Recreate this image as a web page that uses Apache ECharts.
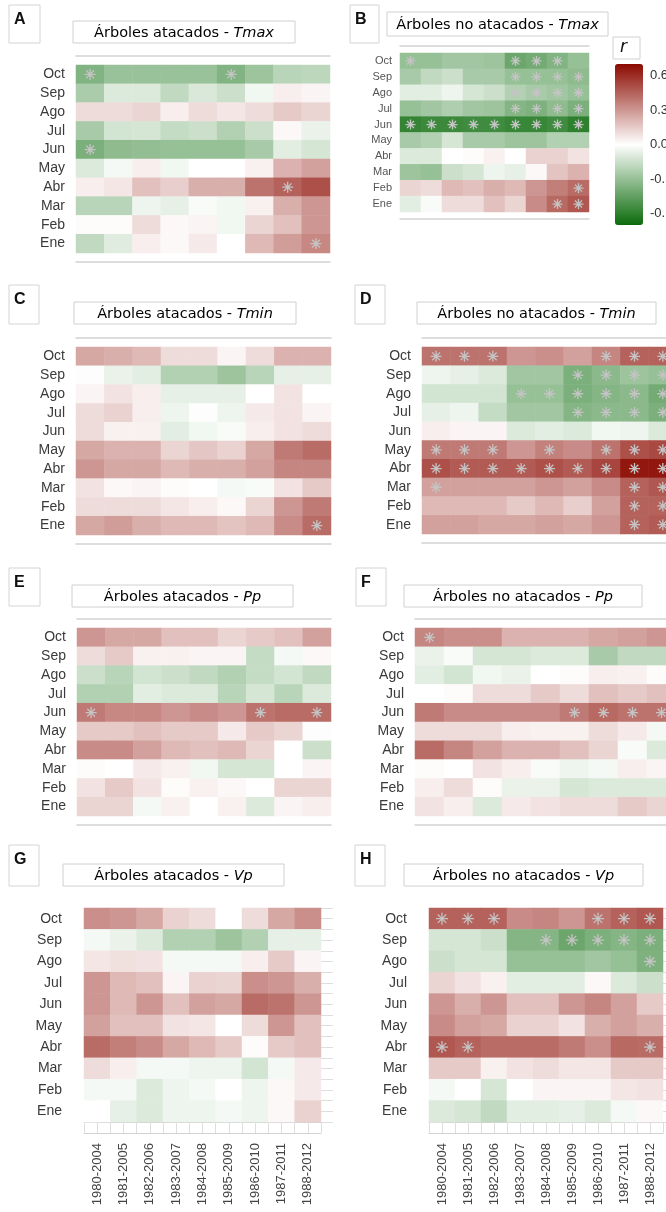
<!DOCTYPE html>
<html>
<head>
<meta charset="utf-8">
<script src="https://cdn.jsdelivr.net/npm/echarts@6/dist/echarts.min.js"></script>
<style>
html, body { margin: 0; padding: 0; background: #fff; }
#chart { width: 666px; height: 1212px; }
</style>
</head>
<body>
<div id="chart"></div>
<script>
// ventanas moviles de 25 años
const periods = ['1980-2004', '1981-2005', '1982-2006', '1983-2007', '1984-2008', '1985-2009', '1986-2010', '1987-2011', '1988-2012'];
// filas de arriba a abajo
const months = ['Oct', 'Sep', 'Ago', 'Jul', 'Jun', 'May', 'Abr', 'Mar', 'Feb', 'Ene'];
const colorTicks = [-0.6, -0.3, 0, 0.3, 0.6];

// coeficiente r por mes (filas Oct..Ene) y ventana (columnas)
const tmaxAtacados = [
    [-0.36, -0.29, -0.29, -0.29, -0.29, -0.36, -0.28, -0.2, -0.19],
    [-0.24, -0.1, -0.1, -0.18, -0.11, -0.15, -0.04, 0.05, 0.03],
    [0.1, 0.1, 0.12, 0.05, 0.1, 0.07, 0.1, 0.15, 0.12],
    [-0.25, -0.13, -0.12, -0.17, -0.15, -0.22, -0.15, 0.02, -0.06],
    [-0.38, -0.32, -0.31, -0.3, -0.3, -0.3, -0.25, -0.08, -0.12],
    [-0.1, -0.03, 0.05, -0.04, 0.0, 0.0, 0.04, 0.22, 0.27],
    [0.05, 0.07, 0.18, 0.14, 0.23, 0.23, 0.4, 0.45, 0.5],
    [-0.2, -0.2, -0.05, -0.07, -0.02, -0.04, 0.04, 0.23, 0.3],
    [0.01, 0.01, 0.1, 0.02, 0.03, -0.04, 0.12, 0.18, 0.3],
    [-0.18, -0.09, 0.05, 0.02, 0.06, 0.0, 0.2, 0.28, 0.34]
];
const tmaxAtacadosSig = [[0, 0], [5, 0], [0, 4], [7, 6], [8, 9]];

const tmaxNoAtacados = [
    [-0.3, -0.3, -0.27, -0.27, -0.28, -0.42, -0.4, -0.36, -0.3],
    [-0.25, -0.18, -0.15, -0.25, -0.25, -0.3, -0.3, -0.3, -0.32],
    [-0.08, -0.08, -0.05, -0.12, -0.15, -0.22, -0.25, -0.27, -0.3],
    [-0.3, -0.27, -0.23, -0.27, -0.28, -0.35, -0.37, -0.32, -0.38],
    [-0.58, -0.56, -0.56, -0.55, -0.55, -0.57, -0.57, -0.55, -0.6],
    [-0.25, -0.22, -0.12, -0.25, -0.25, -0.28, -0.28, -0.22, -0.22],
    [-0.1, -0.1, 0.0, 0.01, 0.04, 0.0, 0.13, 0.13, 0.08],
    [-0.28, -0.3, -0.15, -0.12, -0.05, -0.07, 0.02, 0.17, 0.22],
    [0.12, 0.1, 0.2, 0.18, 0.23, 0.2, 0.3, 0.37, 0.42],
    [-0.08, -0.02, 0.1, 0.1, 0.18, 0.12, 0.33, 0.43, 0.48]
];
const tmaxNoAtacadosSig = [
    [0, 0], [5, 0], [6, 0], [7, 0],
    [5, 1], [6, 1], [7, 1], [8, 1],
    [5, 2], [6, 2], [7, 2], [8, 2],
    [5, 3], [6, 3], [7, 3], [8, 3],
    [0, 4], [1, 4], [2, 4], [3, 4], [4, 4], [5, 4], [6, 4], [7, 4], [8, 4],
    [8, 8], [7, 9], [8, 9]
];

const tminAtacados = [
    [0.25, 0.23, 0.2, 0.1, 0.1, 0.03, 0.1, 0.22, 0.22],
    [-0.01, -0.06, -0.08, -0.22, -0.22, -0.28, -0.2, -0.07, -0.07],
    [0.03, 0.08, 0.05, -0.07, -0.07, -0.07, 0.0, 0.08, 0.0],
    [0.1, 0.13, 0.05, -0.05, -0.01, -0.05, 0.06, 0.08, 0.03],
    [0.1, 0.04, 0.04, -0.08, -0.04, -0.02, 0.05, 0.08, 0.1],
    [0.25, 0.22, 0.22, 0.12, 0.16, 0.13, 0.25, 0.38, 0.42],
    [0.3, 0.25, 0.25, 0.2, 0.23, 0.23, 0.27, 0.35, 0.35],
    [0.08, 0.02, 0.03, 0.01, 0.0, -0.03, -0.02, 0.08, 0.15],
    [0.1, 0.1, 0.1, 0.07, 0.05, 0.02, 0.12, 0.3, 0.38],
    [0.25, 0.28, 0.23, 0.2, 0.2, 0.17, 0.2, 0.33, 0.42]
];
const tminAtacadosSig = [[8, 9]];

const tminNoAtacados = [
    [0.4, 0.4, 0.4, 0.3, 0.32, 0.27, 0.35, 0.45, 0.45],
    [-0.05, -0.07, -0.1, -0.27, -0.27, -0.38, -0.33, -0.28, -0.3],
    [-0.13, -0.13, -0.13, -0.3, -0.3, -0.38, -0.35, -0.33, -0.4],
    [-0.07, -0.05, -0.17, -0.27, -0.27, -0.35, -0.33, -0.33, -0.38],
    [0.05, 0.03, 0.03, -0.1, -0.08, -0.1, -0.04, -0.05, -0.1],
    [0.38, 0.38, 0.38, 0.3, 0.36, 0.33, 0.4, 0.5, 0.52],
    [0.5, 0.47, 0.47, 0.47, 0.5, 0.47, 0.53, 0.66, 0.66],
    [0.27, 0.27, 0.27, 0.27, 0.3, 0.27, 0.33, 0.45, 0.48],
    [0.2, 0.2, 0.2, 0.15, 0.2, 0.14, 0.27, 0.45, 0.45],
    [0.27, 0.27, 0.25, 0.25, 0.27, 0.25, 0.3, 0.45, 0.47]
];
const tminNoAtacadosSig = [
    [0, 0], [1, 0], [2, 0], [6, 0], [7, 0], [8, 0],
    [5, 1], [6, 1], [7, 1], [8, 1],
    [3, 2], [4, 2], [5, 2], [6, 2], [7, 2], [8, 2],
    [5, 3], [6, 3], [7, 3], [8, 3],
    [0, 5], [1, 5], [2, 5], [4, 5], [6, 5], [7, 5], [8, 5],
    [0, 6], [1, 6], [2, 6], [3, 6], [4, 6], [5, 6], [6, 6], [7, 6], [8, 6],
    [0, 7], [7, 7], [8, 7],
    [7, 8], [8, 8],
    [7, 9], [8, 9]
];

const ppAtacados = [
    [0.3, 0.25, 0.25, 0.18, 0.18, 0.12, 0.15, 0.18, 0.27],
    [0.1, 0.15, 0.04, 0.04, 0.03, 0.03, -0.17, -0.03, 0.02],
    [-0.15, -0.2, -0.13, -0.15, -0.18, -0.22, -0.17, -0.13, -0.18],
    [-0.22, -0.22, -0.08, -0.1, -0.1, -0.2, -0.12, -0.2, -0.1],
    [0.38, 0.34, 0.34, 0.3, 0.33, 0.3, 0.4, 0.42, 0.42],
    [0.15, 0.15, 0.18, 0.15, 0.15, 0.06, 0.15, 0.12, -0.01],
    [0.33, 0.33, 0.27, 0.2, 0.18, 0.2, 0.12, 0.0, -0.15],
    [0.01, 0.0, 0.06, 0.04, -0.04, -0.12, -0.12, 0.0, 0.03],
    [0.08, 0.15, 0.08, 0.01, 0.04, 0.02, 0.0, 0.12, 0.12],
    [0.12, 0.12, -0.03, 0.04, 0.0, 0.04, -0.1, 0.03, 0.05]
];
const ppAtacadosSig = [[0, 4], [6, 4], [8, 4]];

const ppNoAtacados = [
    [0.35, 0.32, 0.32, 0.22, 0.22, 0.22, 0.25, 0.27, 0.3],
    [-0.06, -0.02, -0.12, -0.12, -0.1, -0.1, -0.25, -0.18, -0.18],
    [-0.08, -0.13, -0.04, -0.06, 0.0, 0.01, 0.05, 0.04, 0.01],
    [0.0, 0.01, 0.1, 0.1, 0.15, 0.1, 0.18, 0.15, 0.18],
    [0.38, 0.33, 0.33, 0.33, 0.33, 0.38, 0.43, 0.4, 0.4],
    [0.1, 0.1, 0.1, 0.05, 0.04, 0.04, 0.1, 0.06, -0.03],
    [0.42, 0.35, 0.27, 0.22, 0.22, 0.18, 0.12, -0.02, -0.1],
    [0.01, 0.0, 0.08, 0.05, -0.02, -0.05, -0.03, 0.05, 0.03],
    [0.05, 0.1, 0.01, -0.06, -0.06, -0.12, -0.1, -0.1, -0.1],
    [0.08, 0.05, -0.1, 0.06, 0.08, 0.1, 0.1, 0.15, 0.12]
];
const ppNoAtacadosSig = [[0, 0], [5, 4], [6, 4], [7, 4], [8, 4]];

const vpAtacados = [
    [0.32, 0.3, 0.25, 0.13, 0.1, 0.0, 0.1, 0.25, 0.32],
    [-0.03, -0.06, -0.1, -0.22, -0.22, -0.28, -0.22, -0.07, -0.07],
    [0.07, 0.09, 0.08, -0.03, -0.03, -0.03, 0.05, 0.15, 0.03],
    [0.3, 0.2, 0.18, 0.03, 0.13, 0.12, 0.32, 0.3, 0.23],
    [0.3, 0.2, 0.3, 0.18, 0.27, 0.25, 0.42, 0.4, 0.3],
    [0.27, 0.18, 0.18, 0.08, 0.07, 0.0, 0.1, 0.3, 0.18],
    [0.42, 0.37, 0.33, 0.25, 0.2, 0.15, 0.01, 0.15, 0.18],
    [0.1, 0.05, -0.03, -0.03, -0.05, -0.05, -0.13, -0.03, 0.06],
    [-0.03, -0.03, -0.1, -0.05, -0.03, 0.0, -0.05, 0.02, 0.06],
    [0.0, -0.07, -0.1, -0.05, -0.05, -0.03, -0.05, 0.02, 0.13]
];
const vpAtacadosSig = [];

const vpNoAtacados = [
    [0.45, 0.45, 0.45, 0.33, 0.35, 0.3, 0.4, 0.45, 0.48],
    [-0.12, -0.12, -0.15, -0.35, -0.35, -0.42, -0.38, -0.35, -0.38],
    [-0.15, -0.12, -0.12, -0.3, -0.3, -0.3, -0.27, -0.3, -0.37],
    [0.12, 0.08, 0.04, -0.08, -0.08, -0.08, 0.02, -0.1, -0.15],
    [0.3, 0.23, 0.3, 0.18, 0.18, 0.3, 0.35, 0.27, 0.15],
    [0.33, 0.27, 0.25, 0.13, 0.13, 0.08, 0.23, 0.27, 0.23],
    [0.48, 0.45, 0.42, 0.42, 0.42, 0.38, 0.32, 0.43, 0.42],
    [0.15, 0.15, 0.04, 0.08, 0.1, 0.07, 0.07, 0.15, 0.15],
    [-0.03, 0.0, -0.12, 0.0, 0.03, 0.03, 0.03, 0.07, 0.08],
    [-0.1, -0.12, -0.18, -0.08, -0.08, -0.07, -0.1, -0.03, 0.02]
];
const vpNoAtacadosSig = [
    [0, 0], [1, 0], [2, 0], [6, 0], [7, 0], [8, 0],
    [4, 1], [5, 1], [6, 1], [7, 1], [8, 1],
    [8, 2],
    [0, 6], [1, 6], [8, 6]
];

// paneles: datos + posicion en la pagina
const panels = [
    {letter: 'A', title: 'Árboles atacados - ', v: 'Tmax', data: tmaxAtacados, sig: tmaxAtacadosSig,
     grid: {left: 76, top: 65, width: 254, height: 188}, box: [9, 5, 31, 38], tbox: [73, 21, 222, 22], fs: 14, lm: 11, off: 9, star: 11},
    {letter: 'B', title: 'Árboles no atacados - ', v: 'Tmax', data: tmaxNoAtacados, sig: tmaxNoAtacadosSig,
     grid: {left: 400, top: 53, width: 189, height: 159}, box: [350, 5, 29, 38], tbox: [387, 12, 221, 24], fs: 11, lm: 8, off: 7, star: 10},
    {letter: 'C', title: 'Árboles atacados - ', v: 'Tmin', data: tminAtacados, sig: tminAtacadosSig,
     grid: {left: 76, top: 347, width: 255, height: 188}, box: [9, 285, 30, 39], tbox: [74, 302, 222, 22], fs: 14, lm: 11, off: 9, star: 11},
    {letter: 'D', title: 'Árboles no atacados - ', v: 'Tmin', data: tminNoAtacados, sig: tminNoAtacadosSig,
     grid: {left: 422, top: 347, width: 255, height: 187}, box: [355, 285, 30, 39], tbox: [417, 302, 239, 22], fs: 14, lm: 11, off: 9, star: 11},
    {letter: 'E', title: 'Árboles atacados - ', v: 'Pp', data: ppAtacados, sig: ppAtacadosSig,
     grid: {left: 77, top: 628, width: 254, height: 188}, box: [9, 568, 31, 38], tbox: [72, 585, 221, 22], fs: 14, lm: 11, off: 9, star: 11},
    {letter: 'F', title: 'Árboles no atacados - ', v: 'Pp', data: ppNoAtacados, sig: ppNoAtacadosSig,
     grid: {left: 415, top: 628, width: 261, height: 188}, box: [356, 568, 30, 38], tbox: [404, 585, 238, 22], fs: 14, lm: 11, off: 9, star: 11},
    {letter: 'G', title: 'Árboles atacados - ', v: 'Vp', data: vpAtacados, sig: vpAtacadosSig,
     grid: {left: 84, top: 908, width: 237, height: 214}, box: [9, 845, 30, 41], tbox: [63, 864, 221, 22], fs: 14, lm: 22, off: 11, star: 11, ticks: true},
    {letter: 'H', title: 'Árboles no atacados - ', v: 'Vp', data: vpNoAtacados, sig: vpNoAtacadosSig,
     grid: {left: 429, top: 908, width: 234, height: 214}, box: [355, 845, 30, 41], tbox: [404, 864, 239, 22], fs: 14, lm: 22, off: 11, star: 12, ticks: true}
];

const starPath = 'path://M10,0L10,20M0,10L20,10M3,3L17,17M17,3L3,17';
const frameColor = '#d2d2d2';

let grids = [], xAxes = [], yAxes = [], heatSeries = [], starSeries = [], graphics = [];

panels.forEach((p, i) => {
    grids.push(Object.assign({outerBoundsMode: 'none', containLabel: false}, p.grid));
    let cells = [];
    p.data.forEach((row, r) => {
        row.forEach((val, c) => { cells.push([c, r, val]); });
    });

    xAxes.push({
        type: 'category', gridIndex: i, data: periods, position: 'bottom',
        axisLine: {show: false}, axisTick: {show: false}, splitLine: {show: false},
        axisLabel: {
            show: !!p.ticks, rotate: 90, margin: 21, fontSize: 13, color: '#444',
            fontFamily: 'Liberation Sans', padding: [0, 0, 10, 0]
        }
    });
    let cx = xAxes.length - 1;
    yAxes.push({
        type: 'category', gridIndex: i, data: months, inverse: true,
        axisLine: {show: false}, axisTick: {show: false}, splitLine: {show: false},
        axisLabel: {margin: p.lm, fontSize: p.fs, color: p.fs < 14 ? '#555' : '#3a3a3a', fontFamily: 'Liberation Sans'}
    });
    let cy = yAxes.length - 1;

    // lineas del marco arriba / abajo
    ['top', 'bottom'].forEach(pos => {
        xAxes.push({
            type: 'value', gridIndex: i, position: pos, offset: p.off, min: 0, max: 9, interval: 0.5,
            axisLine: {show: true, lineStyle: {color: frameColor, width: p.ticks ? 1 : 1.5}},
            axisTick: {show: !!p.ticks, inside: true, length: p.off, lineStyle: {color: '#dedede'}},
            axisLabel: {show: false}, splitLine: {show: false}
        });
    });
    if (p.ticks) {
        ['left', 'right'].forEach(pos => {
            yAxes.push({
                type: 'value', gridIndex: i, position: pos, offset: 12, min: 0, max: 10, interval: 0.5,
                axisLine: {show: false},
                axisTick: {show: true, inside: true, length: 12, lineStyle: {color: '#dedede'}},
                axisLabel: {show: false}, splitLine: {show: false}
            });
        });
    }

    heatSeries.push({
        type: 'heatmap', xAxisIndex: cx, yAxisIndex: cy, data: cells,
        itemStyle: {borderWidth: 0}, emphasis: {disabled: true}, silent: true
    });
    starSeries.push({
        type: 'scatter', xAxisIndex: cx, yAxisIndex: cy, data: p.sig,
        symbol: starPath, symbolSize: p.star, z: 5, silent: true,
        itemStyle: {color: 'rgba(0,0,0,0)', borderColor: '#c4c4c4', borderWidth: 1.3, opacity: 1}
    });

    // caja con la letra
    graphics.push({
        type: 'rect', shape: {x: p.box[0], y: p.box[1], width: p.box[2], height: p.box[3]},
        style: {fill: '#fff', stroke: '#d4d4d4', lineWidth: 1}
    });
    graphics.push({
        type: 'text', x: p.box[0] + 5, y: p.box[1] + 7,
        style: {text: p.letter, font: 'bold 16px "Liberation Sans"', fill: '#111', align: 'left', verticalAlign: 'top'}
    });
    // caja del titulo
    graphics.push({
        type: 'rect', shape: {x: p.tbox[0], y: p.tbox[1], width: p.tbox[2], height: p.tbox[3]},
        style: {fill: '#fff', stroke: '#d0d0d0', lineWidth: 1}
    });
    graphics.push({
        type: 'text', x: p.tbox[0] + p.tbox[2] / 2, y: p.tbox[1] + p.tbox[3] / 2 + 1,
        style: {
            text: '{n|' + p.title + '}{i|' + p.v + '}',
            align: 'center', verticalAlign: 'middle',
            rich: {
                n: {fontSize: 14.5, fontFamily: 'DejaVu Sans', color: '#1a1a1a'},
                i: {fontSize: 14.5, fontFamily: 'DejaVu Sans', fontStyle: 'italic', color: '#1a1a1a'}
            }
        }
    });
});

// barra de color
grids.push({left: 615, top: 64, width: 28, height: 161, outerBoundsMode: 'none', containLabel: false});
let cbi = grids.length - 1;
xAxes.push({type: 'value', gridIndex: cbi, show: false, min: 0, max: 1});
['left', 'right'].forEach(pos => {
    yAxes.push({
        type: 'value', gridIndex: cbi, position: pos, min: -0.7, max: 0.7,
        axisLine: {show: false}, splitLine: {show: false},
        axisTick: {show: true, inside: true, length: 6, customValues: colorTicks, lineStyle: {color: 'rgba(225,225,225,0.85)', width: 1}},
        axisLabel: {
            show: pos === 'right', customValues: colorTicks, margin: 7, fontSize: 13, color: '#333',
            fontFamily: 'Liberation Sans', formatter: v => Number(v).toFixed(1)
        }
    });
});
graphics.push({
    type: 'rect', shape: {x: 613, y: 37, width: 27, height: 22},
    style: {fill: '#fff', stroke: '#d0d0d0', lineWidth: 1}
});
graphics.push({
    type: 'text', x: 620, y: 48,
    style: {text: 'r', font: 'italic 17px "DejaVu Sans"', fill: '#111', align: 'left', verticalAlign: 'middle'}
});

let myCharts = echarts.init(document.getElementById('chart'));
myCharts.setOption({
    animation: false,
    backgroundColor: '#fff',
    grid: grids,
    xAxis: xAxes,
    yAxis: yAxes,
    visualMap: {
        type: 'continuous', min: -0.7, max: 0.7, dimension: 2,
        seriesIndex: [0, 1, 2, 3, 4, 5, 6, 7],
        calculable: false, orient: 'vertical', text: ['', ''],
        left: 615, top: 64, itemWidth: 28, itemHeight: 161, padding: 0, z: 1,
        inRange: {color: ['#0b6b0b', '#ffffff', '#8b0a00']}
    },
    graphic: graphics,
    series: heatSeries.concat(starSeries)
});
</script>
</body>
</html>
